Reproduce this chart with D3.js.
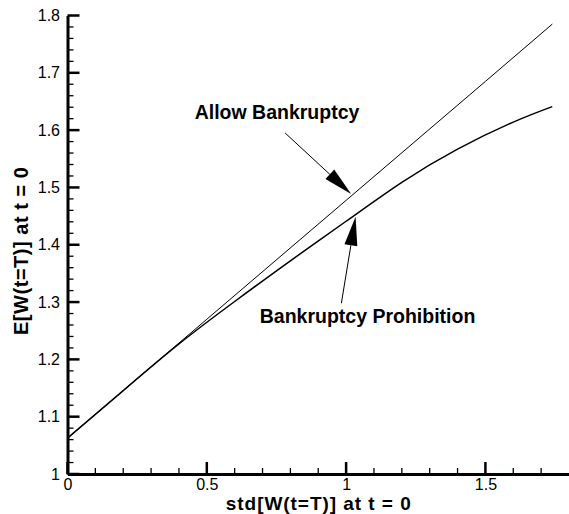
<!DOCTYPE html>
<html>
<head>
<meta charset="utf-8">
<script src="https://cdn.jsdelivr.net/npm/d3@7.9.0/dist/d3.min.js"></script>
<style>
  body { margin: 0; background: #fff; }
  svg { display: block; font-family: "Liberation Sans", Arial, Helvetica, sans-serif; }
  .axis text { font-size: 16px; fill: #000; }
  .title, .label { font-weight: bold; fill: #000; }
</style>
</head>
<body>
<svg id="chart" width="569" height="514"></svg>
<script>
// tick values
const xTicks = [0, 0.5, 1, 1.5];
const xMinor = [0.1, 0.2, 0.3, 0.4, 0.6, 0.7, 0.8, 0.9, 1.1, 1.2, 1.3, 1.4, 1.6, 1.7];
const yTicks = [1, 1.1, 1.2, 1.3, 1.4, 1.5, 1.6, 1.7, 1.8];
const yMinor = d3.range(1, 1.8, 0.02).filter(v => Math.abs(v * 10 - Math.round(v * 10)) > 1e-6);

// efficient frontiers
const stdAllow  = [0, 0.5, 1.0, 1.5, 1.74];
const meanAllow = [1.0625, 1.27, 1.4775, 1.685, 1.785];
const stdProhib  = [0, 0.2, 0.4, 0.6, 0.8, 1.0, 1.2, 1.4, 1.6, 1.74];
const meanProhib = [1.0625, 1.1455, 1.227, 1.301, 1.372, 1.441, 1.509, 1.567, 1.614, 1.641];

// annotations (data units)
const labels     = ['Allow Bankruptcy', 'Bankruptcy Prohibition'];
const labelX     = [0.752, 1.077];
const labelY     = [1.6194, 1.2628];
const arrowFromX = [0.781, 0.983];
const arrowFromY = [1.595, 1.298];
const arrowToX   = [1.018, 1.034];
const arrowToY   = [1.4885, 1.449];

const svg = d3.select('#chart');
const mLeft = 67.5, mRight = 569, mTop = 15.5, mBottom = 474;

const x = d3.scaleLinear().domain([0, 1.8]).range([mLeft, mRight]);
const y = d3.scaleLinear().domain([1, 1.8]).range([mBottom, mTop]);

// tick marks, pointing into the plot
const marks = svg.append('g').attr('stroke', '#000');
marks.selectAll('line.xt')
  .data(xTicks.map(v => [v, 12, 2.5]).concat(xMinor.map(v => [v, 6, 1.3])))
  .join('line')
    .attr('class', 'xt')
    .attr('x1', d => x(d[0])).attr('x2', d => x(d[0]))
    .attr('y1', mBottom).attr('y2', d => mBottom - d[1])
    .attr('stroke-width', d => d[2]);
marks.selectAll('line.yt')
  .data(yTicks.map(v => [v, 12, 2.5]).concat(yMinor.map(v => [v, 6, 1.3])))
  .join('line')
    .attr('class', 'yt')
    .attr('y1', d => y(d[0])).attr('y2', d => y(d[0]))
    .attr('x1', mLeft).attr('x2', d => mLeft + d[1])
    .attr('stroke-width', d => d[2]);

// axes (line + labels)
svg.append('g')
   .attr('class', 'axis')
   .attr('transform', `translate(0,${mBottom})`)
   .call(d3.axisBottom(x).tickValues(xTicks).tickSize(0).tickPadding(5)
           .tickFormat(d3.format('')))
   .call(g => g.select('.domain').attr('stroke', '#000').attr('stroke-width', 3))
   .call(g => g.selectAll('text').attr('dy', '0.71em'));

svg.append('g')
   .attr('class', 'axis')
   .attr('transform', `translate(${mLeft},0)`)
   .call(d3.axisLeft(y).tickValues(yTicks).tickSize(0).tickPadding(7.5)
           .tickFormat(d3.format('')))
   .call(g => g.select('.domain').attr('stroke', '#000').attr('stroke-width', 3));

// curves
const allowLine = d3.line()
  .x(d => x(d[0]))
  .y(d => y(d[1]));

const prohibLine = d3.line()
  .x(d => x(d[0]))
  .y(d => y(d[1]))
  .curve(d3.curveNatural);

svg.append('path')
   .datum(d3.zip(stdAllow, meanAllow))
   .attr('d', allowLine)
   .attr('fill', 'none')
   .attr('stroke', '#000')
   .attr('stroke-width', 1);

svg.append('path')
   .datum(d3.zip(stdProhib, meanProhib))
   .attr('d', prohibLine)
   .attr('fill', 'none')
   .attr('stroke', '#000')
   .attr('stroke-width', 1.5);

// arrows
const headLen = 29, headHalf = 6.5;
labels.forEach((_, i) => {
  const x0 = x(arrowFromX[i]), y0 = y(arrowFromY[i]);
  const x1 = x(arrowToX[i]),   y1 = y(arrowToY[i]);
  const len = Math.hypot(x1 - x0, y1 - y0);
  const ux = (x1 - x0) / len, uy = (y1 - y0) / len;
  const bx = x1 - ux * headLen, by = y1 - uy * headLen;

  svg.append('line')
     .attr('x1', x0).attr('y1', y0)
     .attr('x2', bx).attr('y2', by)
     .attr('stroke', '#000').attr('stroke-width', 1);

  svg.append('polygon')
     .attr('points', [
       [x1, y1],
       [bx - uy * headHalf, by + ux * headHalf],
       [bx + uy * headHalf, by - ux * headHalf]
     ].map(p => p.join(',')).join(' '))
     .attr('fill', '#000');
});

// labels
svg.selectAll('text.label')
   .data(labels)
   .join('text')
     .attr('class', 'label')
     .attr('x', (_, i) => x(labelX[i]))
     .attr('y', (_, i) => y(labelY[i]))
     .attr('text-anchor', 'middle')
     .attr('font-size', 19.5)
     .text(d => d);

// axis titles
svg.append('text')
   .attr('class', 'title')
   .attr('x', (mLeft + mRight) / 2)
   .attr('y', 510)
   .attr('text-anchor', 'middle')
   .attr('font-size', 19)
   .attr('textLength', 185)
   .text('std[W(t=T)] at t = 0');

svg.append('text')
   .attr('class', 'title')
   .attr('transform', 'translate(27.5,251) rotate(-90)')
   .attr('text-anchor', 'middle')
   .attr('font-size', 20)
   .attr('textLength', 168)
   .text('E[W(t=T)] at t = 0');
</script>
</body>
</html>
